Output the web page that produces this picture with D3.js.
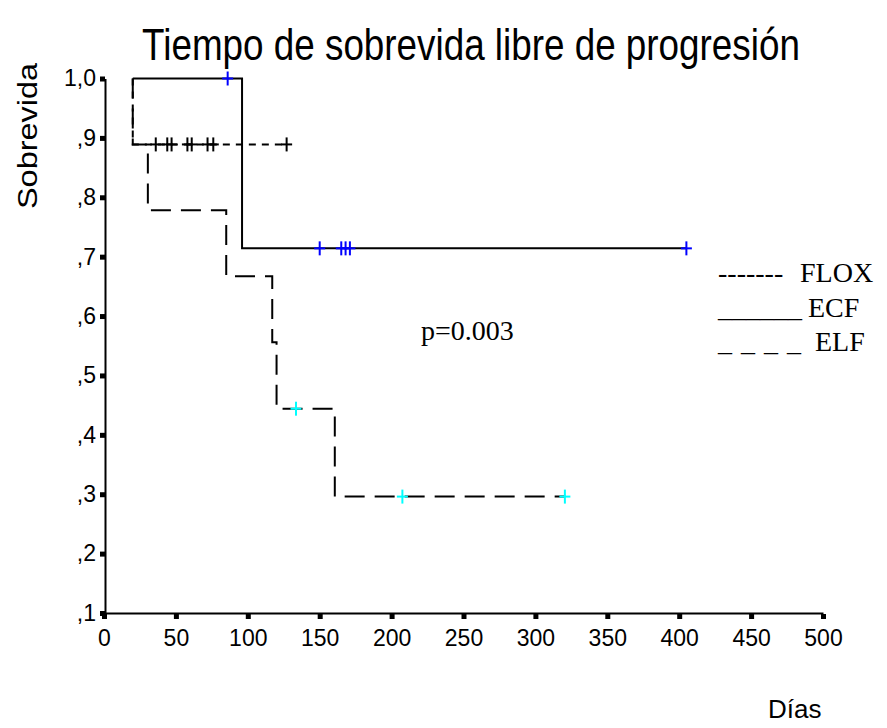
<!DOCTYPE html>
<html>
<head>
<meta charset="utf-8">
<script src="https://cdn.jsdelivr.net/npm/d3@7"></script>
<style>
  body { margin: 0; background: #fff; }
  svg { display: block; }
</style>
</head>
<body>
<div id="chart"></div>
<script>
// Kaplan-Meier steps (days, survival)
const ecfTimes = [20, 96, 405];
const ecfSurv = [1.0, 0.714, 0.714];
const ecfCensored = [86, 150, 165, 168, 171, 405];

const floxTimes = [20, 20, 127];
const floxSurv = [1.0, 0.889, 0.889];
const floxCensored = [36, 44, 47, 58, 61, 72, 76, 127];

const elfTimes = [20, 20, 30.5, 85, 117, 120, 160.5, 320.5];
const elfSurv = [1.0, 0.889, 0.778, 0.667, 0.556, 0.444, 0.296, 0.296];
const elfCensored = [133.5, 207.5, 320.5];

const xTicks = [0, 50, 100, 150, 200, 250, 300, 350, 400, 450, 500];
const yTicks = [1.0, 0.9, 0.8, 0.7, 0.6, 0.5, 0.4, 0.3, 0.2, 0.1];
const yTickLabels = ["1,0", ",9", ",8", ",7", ",6", ",5", ",4", ",3", ",2", ",1"];

const width = 887, height = 728;
const sans = "'Liberation Sans', Arial, Helvetica, sans-serif";
const serif = "'Liberation Serif', 'Times New Roman', serif";

const svg = d3.select("#chart").append("svg")
    .attr("width", width)
    .attr("height", height);

const x = d3.scaleLinear().domain([0, 500]).range([104, 823]);
const y = d3.scaleLinear().domain([0.1, 1.0]).range([613, 78.5]);

// title, squeezed horizontally like the original
const title = svg.append("text")
    .attr("text-anchor", "middle")
    .style("font-family", sans)
    .style("font-size", "44px")
    .text("Tiempo de sobrevida libre de progresión");
const titleW = title.node().getComputedTextLength();
title.attr("transform", "translate(471,60) scale(" + Math.min(1, 658 / titleW) + ",1)");

// axes
const yAxis = svg.append("g")
    .attr("transform", "translate(105,0)")
    .call(d3.axisLeft(y).tickValues(yTicks).tickSize(0).tickPadding(9)
        .tickFormat((d, i) => yTickLabels[i]));

const xAxis = svg.append("g")
    .attr("transform", "translate(0,613)")
    .call(d3.axisBottom(x).tickValues(xTicks).tickSize(0).tickPadding(17));

[yAxis, xAxis].forEach(function (g) {
    g.select(".domain").attr("stroke", "#000").attr("stroke-width", 2);
    g.selectAll(".tick text")
        .style("font-family", sans)
        .style("font-size", "23px")
        .attr("fill", "#000");
});

yAxis.selectAll(".tick").append("rect")
    .attr("x", -5).attr("y", -2.5)
    .attr("width", 5).attr("height", 5)
    .attr("fill", "#000");

xAxis.selectAll(".tick").append("rect")
    .attr("x", -2.5).attr("y", 1)
    .attr("width", 5).attr("height", 5)
    .attr("fill", "#000");

// axis titles
svg.append("text")
    .attr("transform", "translate(37,136) rotate(-90)")
    .attr("text-anchor", "middle")
    .style("font-family", sans)
    .style("font-size", "28px")
    .attr("textLength", 146)
    .attr("lengthAdjust", "spacingAndGlyphs")
    .text("Sobrevida");

svg.append("text")
    .attr("x", 768)
    .attr("y", 718)
    .style("font-family", sans)
    .style("font-size", "26px")
    .text("Días");

// curves
const series = [
    {times: floxTimes, surv: floxSurv, censored: floxCensored, dash: "7,6", mark: "#000"},
    {times: ecfTimes, surv: ecfSurv, censored: ecfCensored, dash: null, mark: "#0000ff"},
    {times: elfTimes, surv: elfSurv, censored: elfCensored, dash: "20,10", mark: "#00ffff"}
];

const line = d3.line()
    .x(d => x(d[0]))
    .y(d => y(d[1]))
    .curve(d3.curveStepAfter);

series.forEach(function (s) {
    const pts = s.times.map((t, i) => [t, s.surv[i]]);
    svg.append("path")
        .datum(pts)
        .attr("d", line)
        .attr("fill", "none")
        .attr("stroke", "#000")
        .attr("stroke-width", 2)
        .attr("stroke-dasharray", s.dash);
});

series.forEach(function (s) {
    const survAt = function (t) {
        let v = s.surv[0];
        s.times.forEach((tt, i) => { if (tt <= t) v = s.surv[i]; });
        return v;
    };
    const marks = svg.append("g")
        .selectAll("g")
        .data(s.censored)
        .enter()
        .append("g")
        .attr("transform", d => "translate(" + x(d) + "," + y(survAt(d)) + ")");
    marks.append("line")
        .attr("x1", -5.5).attr("x2", 5.5)
        .attr("stroke", s.mark).attr("stroke-width", 2);
    marks.append("line")
        .attr("y1", -7).attr("y2", 7)
        .attr("stroke", s.mark).attr("stroke-width", 2);
});

// legend and p-value
const legendItems = [
    {line: "-------", label: "FLOX", y: 282, lx: 800},
    {line: "______", label: "ECF", y: 317, lx: 808},
    {line: "_ _ _ _", label: "ELF", y: 351, lx: 815}
];

const legend = svg.append("g")
    .selectAll("text")
    .data(legendItems)
    .enter()
    .append("text")
    .attr("y", d => d.y)
    .style("font-family", serif)
    .style("font-size", "28px");

legend.append("tspan")
    .attr("x", 718)
    .style("word-spacing", "2px")
    .text(d => d.line);
legend.append("tspan")
    .attr("x", d => d.lx)
    .text(d => d.label);

svg.append("text")
    .attr("x", 421)
    .attr("y", 340)
    .style("font-family", serif)
    .style("font-size", "28px")
    .text("p=0.003");
</script>
</body>
</html>
